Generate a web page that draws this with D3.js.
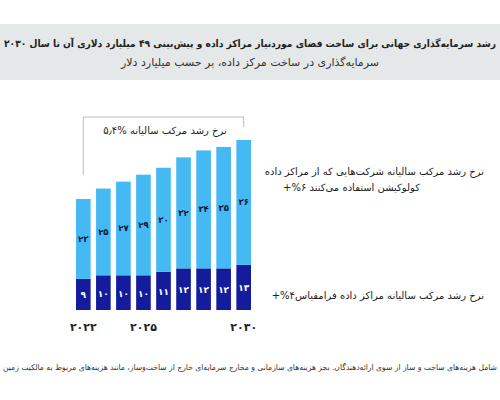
<!DOCTYPE html>
<html><head><meta charset="utf-8">
<script src="https://cdn.jsdelivr.net/npm/d3@7"></script>
<style>body{margin:0;background:#fff}svg{display:block;font-family:"DejaVu Sans",sans-serif}</style>
</head><body><svg id="c" width="500" height="400"></svg>
<script>
const years = [2022,2023,2024,2025,2026,2027,2028,2029,2030];
const hyperscale = [9,10,10,10,11,12,12,12,13];
const colocation = [23,25,27,29,30,32,34,35,36];
const yearLabels = [2022,2025,2030];
const fa = n => String(n).replace(/\d/g, d => "۰۱۲۳۴۵۶۷۸۹"[d]);
const svg = d3.select("#c");
svg.append("rect").attr("x",0).attr("y",24).attr("width",500).attr("height",56).attr("fill","#e4e8e9");
svg.append("text").attr("x",250).attr("y",47).attr("text-anchor","middle").attr("direction","rtl")
  .attr("font-size",10).attr("font-weight","bold").attr("fill","#222")
  .attr("textLength",492).attr("lengthAdjust","spacingAndGlyphs")
  .text("رشد سرمایه‌گذاری جهانی برای ساخت فضای موردنیاز مراکز داده و پیش‌بینی ۴۹ میلیارد دلاری آن تا سال ۲۰۳۰");
svg.append("text").attr("x",250).attr("y",66).attr("text-anchor","middle").attr("direction","rtl")
  .attr("font-size",11).attr("fill","#333").text("سرمایه‌گذاری در ساخت مرکز داده، بر حسب میلیارد دلار");
const x = d3.scaleBand().domain(years).range([75,252]).paddingInner(0.27).paddingOuter(0.05);
const y = d3.scaleLinear().domain([0,49]).range([310,140]);
const dark="#141c9c", light="#45b9f2";
years.forEach((yr,i)=>{
  const h=hyperscale[i], c=colocation[i];
  svg.append("rect").attr("x",x(yr)).attr("width",x.bandwidth()).attr("y",y(h)).attr("height",y(0)-y(h)).attr("fill",dark);
  svg.append("rect").attr("x",x(yr)).attr("width",x.bandwidth()).attr("y",y(h+c)).attr("height",y(h)-y(h+c)).attr("fill",light);
  const cx=x(yr)+x.bandwidth()/2;
  svg.append("text").attr("x",cx).attr("y",(y(0)+y(h))/2+4).attr("text-anchor","middle").attr("font-size",9).attr("font-weight","bold").attr("fill","#fff").text(fa(h));
  svg.append("text").attr("x",cx).attr("y",(y(h)+y(h+c))/2+3).attr("text-anchor","middle").attr("font-size",8.5).attr("font-weight","bold").attr("fill","#0b1540").text(fa(c));
});
yearLabels.forEach(yr=>{
  svg.append("text").attr("x",x(yr)+x.bandwidth()/2).attr("y",331).attr("text-anchor","middle").attr("font-size",11).attr("font-weight","bold").attr("fill","#222").text(fa(yr));
});
const x0=x(years[0])+x.bandwidth()/2, x1=x(years[8])+x.bandwidth()/2;
svg.append("path").attr("d",`M${x0},${y(hyperscale[0]+colocation[0])-24}V117H${x1}V127`).attr("fill","none").attr("stroke","#aaa").attr("stroke-width",0.8);
svg.append("text").attr("x",165).attr("y",134).attr("text-anchor","middle").attr("direction","rtl").attr("font-size",10).attr("fill","#222").text("نرخ رشد مرکب سالیانه %۵٫۴");
const ann=(t,yy)=>svg.append("text").attr("x",266).attr("y",yy).attr("direction","rtl").attr("font-size",10).attr("fill","#222").text(t);
ann("نرخ رشد مرکب سالیانه شرکت‌هایی که از مراکز داده",175).attr("text-anchor","start").attr("x",484);
ann("کولوکیشن استفاده می‌کنند ۶%+",191).attr("text-anchor","start").attr("x",420);
ann("نرخ رشد مرکب سالیانه مراکز داده فرامقیاس۴%+",299).attr("text-anchor","start").attr("x",484);
svg.append("text").attr("x",250).attr("y",370).attr("text-anchor","middle").attr("direction","rtl").attr("font-size",8).attr("fill","#333")
  .attr("textLength",494).attr("lengthAdjust","spacingAndGlyphs")
  .text("شامل هزینه‌های ساخت و ساز از سوی ارائه‌دهندگان. بجز هزینه‌های سازمانی و مخارج سرمایه‌ای خارج از ساخت‌وساز، مانند هزینه‌های مربوط به مالکیت زمین");
</script></body></html>
